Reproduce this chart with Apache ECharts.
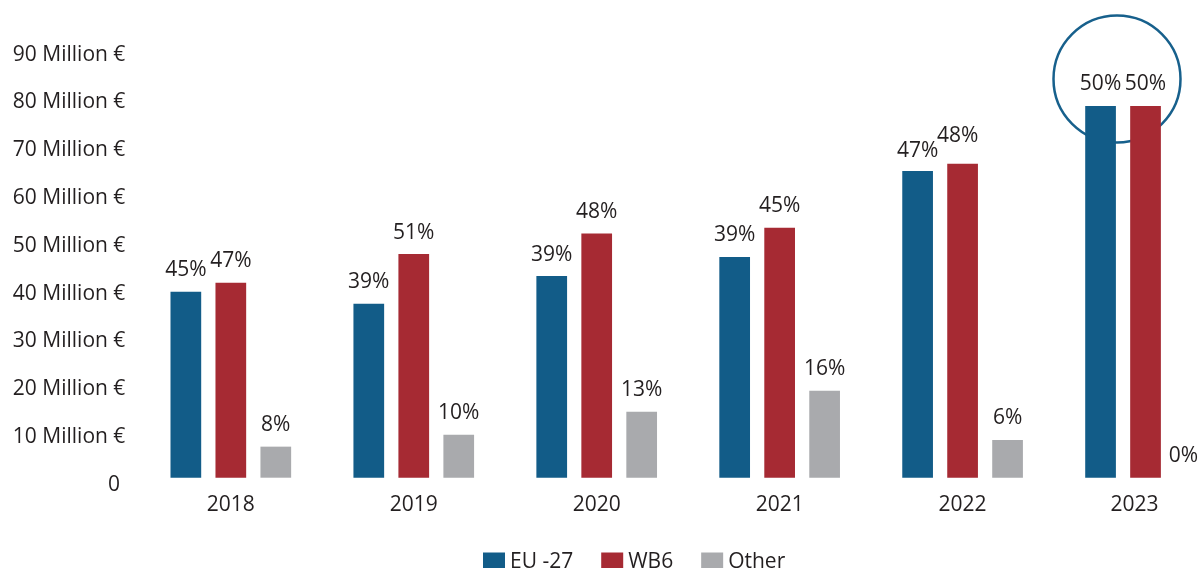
<!DOCTYPE html>
<html>
<head>
<meta charset="utf-8">
<script src="https://cdn.jsdelivr.net/npm/echarts@6/dist/echarts.min.js"></script>
<style>
html,body{margin:0;padding:0;background:#fff;overflow:hidden;width:1201px;height:568px;}
#chart{width:1237px;height:568px;}
</style>
</head>
<body>
<div id="chart"></div>
<script>
// ---- data ----
var categories = ['2018', '2019', '2020', '2021', '2022', '2023'];
var seriesNames = ['EU -27', 'WB6', 'Other'];
var euValues = [38.9, 36.4, 42.2, 46.2, 64.2, 77.8];      // Million €
var wb6Values = [40.8, 46.8, 51.1, 52.3, 65.7, 77.8];
var otherValues = [6.5, 9.0, 13.8, 18.2, 7.9, 0];
var euShare = ['45%', '39%', '39%', '39%', '47%', '50%'];
var wb6Share = ['47%', '51%', '48%', '45%', '48%', '50%'];
var otherShare = ['8%', '10%', '13%', '16%', '6%', '0%'];
var yTicks = [0, 10, 20, 30, 40, 50, 60, 70, 80, 90];
var yTickLabels = ['0 ', '10 Million €', '20 Million €', '30 Million €', '40 Million €',
  '50 Million €', '60 Million €', '70 Million €', '80 Million €', '90 Million €'];

// ---- styling ----
var FONT = '"Open Sans", "Noto Sans", sans-serif';
var TEXT = '#231f20';
var colors = ['#125c88', '#a62a33', '#a9aaad'];

// per-item label nudges (layout only)
var labelOffsets = {
  'WB6': {4: [-5, -6]},
  'EU -27': {4: [0, 2]},
  'Other': {5: [-7, 0]}
};

function buildData(name, values, shares) {
  return values.map(function (v, i) {
    var item = {value: v, shareLabel: shares[i]};
    var off = labelOffsets[name] && labelOffsets[name][i];
    if (off) item.label = {offset: off};
    return item;
  });
}

function makeSeries(name, values, shares, color) {
  return {
    name: name,
    type: 'bar',
    barWidth: 30.7,
    barGap: '46.5%',
    itemStyle: {color: color},
    z: 5,
    label: {
      show: true,
      position: 'top',
      distance: 11,
      fontFamily: FONT,
      fontSize: 21,
      color: TEXT,
      formatter: function (p) { return p.data.shareLabel; }
    },
    data: buildData(name, values, shares)
  };
}

var chart = echarts.init(document.getElementById('chart'), null, {renderer: 'canvas'});
var option = {
  animation: false,
  backgroundColor: '#ffffff',
  textStyle: {fontFamily: FONT},
  grid: {left: 139.35, right: 0, top: 47.7, height: 430, containLabel: false},
  legend: {
    left: 478,
    top: 547,
    itemWidth: 22,
    itemHeight: 20,
    itemGap: 28,
    icon: 'rect',
    textStyle: {fontFamily: FONT, fontSize: 21, color: TEXT},
    data: seriesNames
  },
  xAxis: {
    type: 'category',
    data: categories.map(function (c, i) {
      return i === categories.length - 1 ? {value: c, textStyle: {padding: [0, 22, 0, 0]}} : c;
    }),
    axisLine: {show: false},
    axisTick: {show: false},
    splitLine: {show: false},
    axisLabel: {fontFamily: FONT, fontSize: 21, color: TEXT, margin: 17}
  },
  yAxis: {
    type: 'value',
    min: yTicks[0],
    max: yTicks[yTicks.length - 1],
    interval: yTicks[1] - yTicks[0],
    axisLine: {show: false},
    axisTick: {show: false},
    splitLine: {show: false},
    axisLabel: {
      fontFamily: FONT, fontSize: 21, color: TEXT, margin: 14,
      verticalAlign: 'top',
      lineHeight: 14,
      formatter: function (v) { return yTickLabels[yTicks.indexOf(v)]; }
    }
  },
  graphic: [{
    type: 'circle',
    z: 0,
    shape: {cx: 1117, cy: 79, r: 63.5},
    style: {fill: 'none', stroke: '#17608c', lineWidth: 2.5}
  }],
  series: [
    makeSeries(seriesNames[0], euValues, euShare, colors[0]),
    makeSeries(seriesNames[1], wb6Values, wb6Share, colors[1]),
    makeSeries(seriesNames[2], otherValues, otherShare, colors[2])
  ]
};
chart.setOption(option);
</script>
</body>
</html>
